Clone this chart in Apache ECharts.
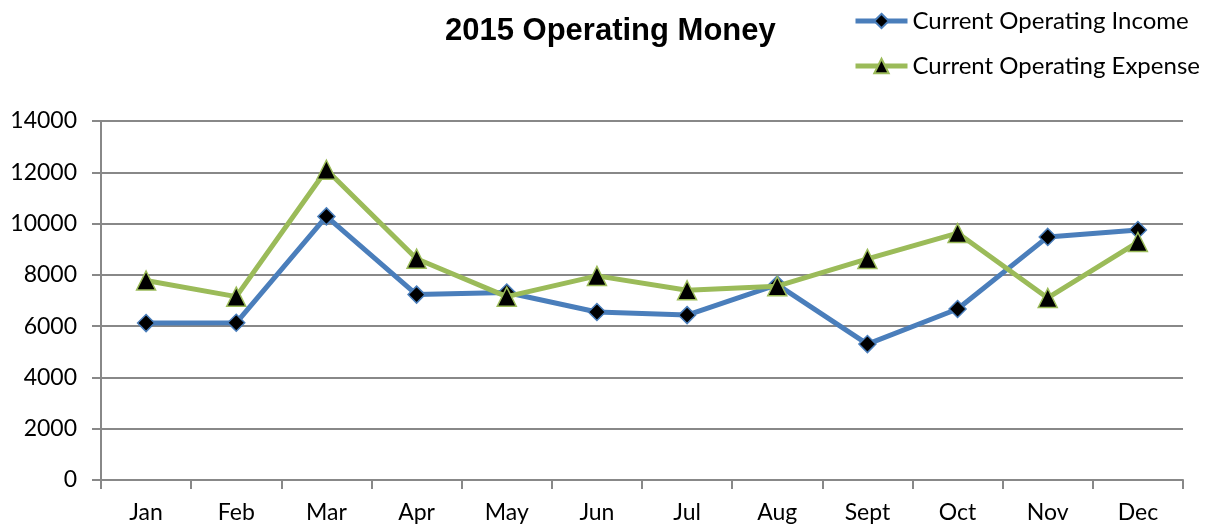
<!DOCTYPE html>
<html>
<head>
<meta charset="utf-8">
<script src="https://cdn.jsdelivr.net/npm/echarts@6/dist/echarts.min.js"></script>
<style>
  html, body { margin: 0; padding: 0; background: #fff; }
  #chart { width: 1211px; height: 529px; }
</style>
</head>
<body>
<div id="chart"></div>
<script>
// data
var months = ['Jan', 'Feb', 'Mar', 'Apr', 'May', 'Jun', 'Jul', 'Aug', 'Sept', 'Oct', 'Nov', 'Dec'];
var incomeValues = [6120, 6130, 10280, 7230, 7310, 6550, 6430, 7620, 5300, 6670, 9480, 9750];
var expenseValues = [7780, 7150, 12100, 8630, 7150, 7960, 7400, 7560, 8620, 9630, 7100, 9280];

var chart = echarts.init(document.getElementById('chart'));
var labelFont = 'Lato, "Open Sans", sans-serif';

var option = {
  animation: false,
  title: {
    text: '2015 Operating Money',
    left: 440,
    top: 11,
    textStyle: { fontFamily: '"Liberation Sans", Arial, sans-serif', fontWeight: 'bold', fontSize: 31, color: '#000' }
  },
  legend: {
    orient: 'vertical',
    left: 848,
    top: 4,
    itemWidth: 52,
    itemHeight: 18,
    itemGap: 21,
    lineStyle: { width: 5 },
    textStyle: { fontFamily: labelFont, fontSize: 24, color: '#000', padding: [0, 0, 0, 0] },
    data: ['Current Operating Income', 'Current Operating Expense']
  },
  grid: { left: 101, right: 28, top: 121, bottom: 49 },
  xAxis: {
    type: 'category',
    data: months,
    boundaryGap: true,
    axisLine: { lineStyle: { color: '#888', width: 2 } },
    axisTick: { show: true, length: 9, lineStyle: { color: '#888', width: 2 } },
    axisLabel: { fontFamily: labelFont, fontSize: 23, color: '#000', margin: 21 }
  },
  yAxis: {
    type: 'value',
    min: 0,
    max: 14000,
    interval: 2000,
    axisLine: { show: true, lineStyle: { color: '#888', width: 2 } },
    axisTick: { show: true, length: 9, lineStyle: { color: '#888', width: 2 } },
    axisLabel: {
      fontFamily: labelFont, fontSize: 23, color: '#000', margin: 24,
      formatter: function (v) { return String(v); }
    },
    splitLine: { lineStyle: { color: '#888', width: 2 } }
  },
  series: [
    {
      name: 'Current Operating Income',
      type: 'line',
      data: incomeValues,
      symbol: 'diamond',
      symbolSize: 17,
      lineStyle: { color: '#4a7ebb', width: 5 },
      itemStyle: { color: '#000', borderColor: '#4a7ebb', borderWidth: 1.5 },
      z: 3
    },
    {
      name: 'Current Operating Expense',
      type: 'line',
      data: expenseValues,
      symbol: 'triangle',
      symbolSize: 19,
      lineStyle: { color: '#9bbb59', width: 5 },
      itemStyle: { color: '#000', borderColor: '#9bbb59', borderWidth: 1.5 },
      z: 4
    }
  ]
};

chart.setOption(option);
</script>
</body>
</html>
